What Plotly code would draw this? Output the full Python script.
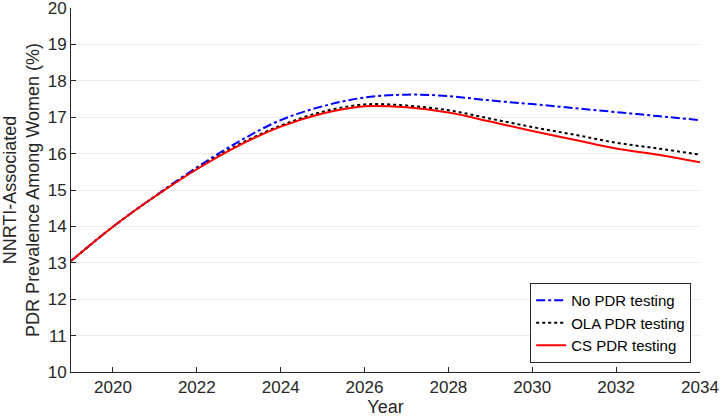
import plotly.graph_objects as go

years = [2019, 2020, 2021, 2022, 2023, 2024, 2025, 2026, 2027, 2028, 2029, 2030, 2031, 2032, 2033, 2034]
no_pdr = [13.05, 13.99, 14.83, 15.62, 16.33, 16.92, 17.30, 17.54, 17.62, 17.58, 17.46, 17.36, 17.25, 17.14, 17.03, 16.92]
ola_pdr = [13.05, 13.99, 14.82, 15.58, 16.25, 16.77, 17.15, 17.35, 17.32, 17.19, 16.96, 16.73, 16.52, 16.30, 16.14, 15.97]
cs_pdr = [13.05, 13.99, 14.82, 15.57, 16.22, 16.74, 17.10, 17.30, 17.27, 17.13, 16.88, 16.62, 16.38, 16.14, 15.97, 15.76]

series_names = ["No PDR testing", "OLA PDR testing", "CS PDR testing"]
x_ticks = [2020, 2022, 2024, 2026, 2028, 2030, 2032, 2034]
y_ticks = list(range(10, 21))

FONT = "Liberation Sans, Arial, Helvetica, sans-serif"

fig = go.Figure()
fig.add_trace(go.Scatter(x=years, y=no_pdr, name=series_names[0], mode="lines",
                         line=dict(color="#0000ff", width=2, dash="dashdot", shape="spline")))
fig.add_trace(go.Scatter(x=years, y=ola_pdr, name=series_names[1], mode="lines",
                         line=dict(color="#000000", width=2, dash="dot", shape="spline")))
fig.add_trace(go.Scatter(x=years, y=cs_pdr, name=series_names[2], mode="lines",
                         line=dict(color="#ff0000", width=2, shape="spline")))

fig.update_layout(
    width=722, height=419,
    margin=dict(l=71, r=22, t=8, b=47, autoexpand=False),
    paper_bgcolor="white", plot_bgcolor="white",
    font=dict(family=FONT, size=17, color="#262626"),
    showlegend=True,
    legend=dict(x=0.986, y=0.025, xanchor="right", yanchor="bottom",
                bgcolor="white", bordercolor="#262626", borderwidth=1,
                font=dict(size=15, color="#000000"), tracegroupgap=0,
                itemwidth=30),
)
fig.update_xaxes(range=[2019, 2034], tickvals=x_ticks, ticks="inside", ticklen=5,
                 tickcolor="#262626", showline=True, linecolor="#262626", linewidth=1,
                 showgrid=False, zeroline=False, tickfont=dict(size=17), automargin=False,
                 ticklabeloverflow="allow",
                 title=dict(text="Year", font=dict(size=18), standoff=2))
fig.update_yaxes(range=[10, 20], tickvals=y_ticks, ticks="inside", ticklen=5,
                 tickcolor="#262626", showline=True, linecolor="#262626", linewidth=1,
                 showgrid=True, gridcolor="#ebebeb", gridwidth=1, zeroline=False,
                 tickfont=dict(size=17), automargin=False, ticklabeloverflow="allow",
                 title=dict(text="NNRTI-Associated<br>PDR Prevalence Among Women (%)",
                            font=dict(size=18), standoff=4))

fig.write_html("out.html", config={"displayModeBar": False},
               post_script="document.body.style.margin='0';document.body.style.padding='0';")
